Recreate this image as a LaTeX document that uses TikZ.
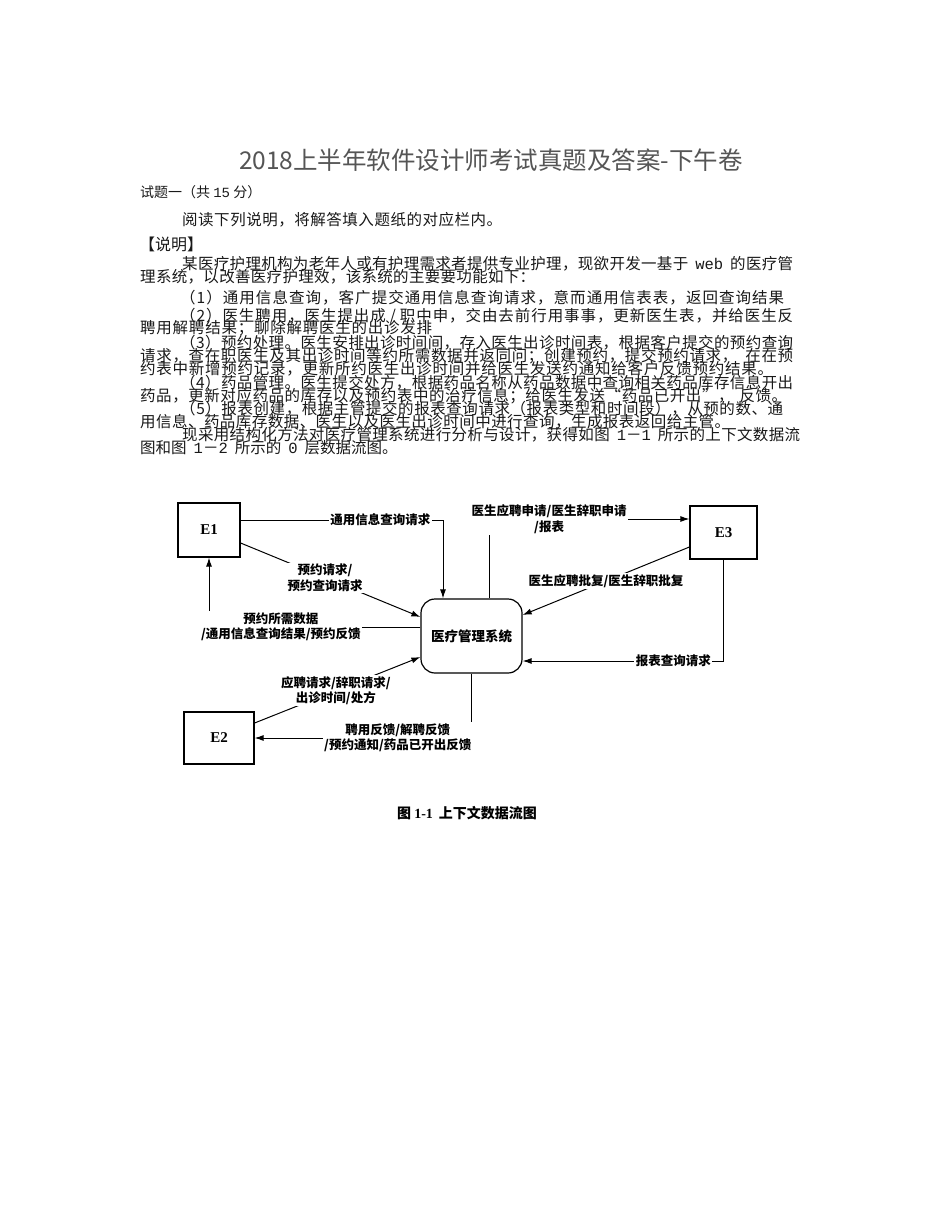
\documentclass[tikz,border=0pt]{standalone}
\usepackage{fontspec}
\setmainfont{Liberation Serif}
\newfontfamily\cjk{Noto Sans CJK SC}
\newfontfamily\monof{Liberation Mono}
\usetikzlibrary{arrows.meta,calc}
% character classes for CJK stretching (used only inside body lines)
\makeatletter
\count@="4E00
\loop
  \XeTeXcharclass\count@=1
  \advance\count@ by 1
\ifnum\count@<"A000 \repeat
\makeatother
\XeTeXcharclass`，=3 \XeTeXcharclass`。=3 \XeTeXcharclass`；=3 \XeTeXcharclass`：=3
\XeTeXcharclass`、=3 \XeTeXcharclass`）=3 \XeTeXcharclass`”=3
\XeTeXcharclass`（=2 \XeTeXcharclass`“=2 \XeTeXcharclass`－=1
\newcommand\cjkglue{\hskip 0pt plus 1fil\relax}
\XeTeXinterchartoks 1 1 = {\cjkglue}
\XeTeXinterchartoks 1 2 = {\cjkglue}
\XeTeXinterchartoks 1 3 = {\cjkglue}
\XeTeXinterchartoks 2 1 = {\cjkglue}
\XeTeXinterchartoks 3 1 = {\cjkglue}
\XeTeXinterchartoks 3 2 = {\cjkglue}
\XeTeXinterchartoks 3 3 = {\cjkglue}
\XeTeXinterchartoks 2 2 = {\cjkglue}
\XeTeXinterchartoks 0 1 = {\cjkglue}
\XeTeXinterchartoks 1 0 = {\cjkglue}
\XeTeXinterchartoks 0 3 = {\cjkglue}
\XeTeXinterchartoks 2 0 = {\cjkglue}
\definecolor{titlegray}{RGB}{85,85,85}
\definecolor{bodyink}{RGB}{25,25,25}
\newcommand\gap{\hspace{7pt}}
\newcommand\bodyln[5]{%
  \node[anchor=west,inner sep=0pt,text=bodyink,font=\cjk\fontsize{15.5}{15.5}\selectfont] (#1) at (#2,#4)
  {\XeTeXinterchartokenstate=1\relax\makebox[\dimexpr#3pt-#2pt\relax][s]{#5}};}
\begin{document}
\begin{tikzpicture}[x=1pt,y=-1pt,
  ent/.style={draw,line width=1.2pt,minimum width=62pt,minimum height=54pt,inner sep=0pt,
    font=\rmfamily\bfseries\fontsize{15}{15}\selectfont},
  proc/.style={draw,line width=1.2pt,rounded corners=14pt,minimum width=101pt,minimum height=74pt,
    inner sep=0pt,font=\cjk\bfseries\fontsize{13.5}{14}\selectfont},
  flow/.style={line width=1pt,-{Latex[length=9pt,width=6pt]}},
  lab/.style={fill=white,inner sep=1.5pt,align=center,font=\cjk\bfseries\fontsize{12.5}{15.5}\selectfont},
  hd/.style={anchor=west,inner sep=0pt,text=bodyink,font=\cjk\fontsize{14}{14}\selectfont}]
\path[fill=white,use as bounding box] (0,0) rectangle (950,1230);

% title and heading
\node[font=\cjk\fontsize{24.5}{25}\selectfont,text=titlegray] (title) at (491,160) {2018上半年软件设计师考试真题及答案-下午卷};
\node[hd] (h1) at (140,192) {试题一（共 {\monof 15} 分）};
\bodyln{h2}{182}{502}{220}{阅读下列说明，将解答填入题纸的对应栏内。}
\node[hd,font=\cjk\fontsize{16}{16}\selectfont] (h3) at (139,244) {【说明】};

% body
\bodyln{l1}{182}{793}{264}{某医疗护理机构为老年人或有护理需求者提供专业护理，现欲开发一基于\gap{\monof web}\gap 的医疗管}
\bodyln{l2}{140}{535}{277}{理系统，以改善医疗护理效，该系统的主要要功能如下：}
\bodyln{l3}{180}{784}{298}{（1）通用信息查询，客广提交通用信息查询请求，意而通用信表表，返回查询结果}
\bodyln{l4}{180}{793}{316}{（2）医生聘用，医生提出成\hspace{4pt}/\hspace{4pt}职中申，交由去前行用事事，更新医生表，并给医生反}
\bodyln{l5}{140}{432}{328}{聘用解聘结果；聊除解聘医生的出诊发排}
\bodyln{l6}{180}{793}{343}{（3）预约处理。医生安排出诊时间间，存入医生出诊时间表，根据客户提交的预约查询}
\bodyln{l7}{140}{793}{356}{请求，查在职医生及其出诊时间等约所需数据并返同问；创建预约，提交预约请求，\hspace{8pt}在在预}
\bodyln{l8}{140}{773}{369}{约表中新增预约记录，更新所约医生出诊时间并给医生发送约通知给客户反馈预约结果。}
\bodyln{l9}{180}{793}{383}{（4）药品管理。医生提交处方，根据药品名称从药品数据中查询相关药品库存信息开出}
\bodyln{l10}{140}{787}{396}{药品，更新对应药品的库存以及预约表中的治疗信息；给医生发送“药品已开出”，\hspace{6pt}反馈。}
\bodyln{l11}{180}{783}{409}{（5）报表创建，根据主管提交的报表查询请求（报表类型和时间段），从预的数、通}
\bodyln{l12}{140}{730}{422}{用信息、药品库存数据、医生以及医生出诊时间中进行查询，生成报表返回给主管。}
\bodyln{l13}{182}{800}{435}{现采用结构化方法对医疗管理系统进行分析与设计，获得如图\gap{\monof 1}－{\monof 1}\gap 所示的上下文数据流}
\bodyln{l14}{140}{392}{448}{图和图\gap{\monof 1}－{\monof 2}\gap 所示的\gap{\monof 0}\gap 层数据流图。}

% diagram nodes
\node[ent] (E1) at (209,530) {E1};
\node[ent,minimum width=67pt,minimum height=53pt] (E3) at (723.5,532.5) {E3};
\node[ent,minimum width=70pt,minimum height=52pt] (E2) at (219,738) {E2};
\node[proc] (P) at (471.5,636) {医疗管理系统};

% connectors
\draw[flow] ($(E1.east)+(0,-10)$) -| node[lab,pos=0.345] (t1) {通用信息查询请求} ($(P.north)+(-28.5,0)$);
\draw[flow] ($(E1.east)+(0,13)$) -- node[lab,pos=0.47] (t2) {预约请求/\\预约查询请求} ($(P.west)+(0,-19)$);
\draw[flow] ($(P.west)+(0,-9)$) -| node[lab,pos=0.33] (t3) {预约所需数据\\/通用信息查询结果/预约反馈} (E1.south);
\draw[flow] ($(E2.east)+(0,-15)$) -- node[lab,pos=0.49] (t4) {应聘请求/辞职请求/\\出诊时间/处方} ($(P.west)+(0,21)$);
\draw[flow] (P.south) |- node[lab,pos=0.67] (t5) {聘用反馈/解聘反馈\\/预约通知/药品已开出反馈} (E2.east);
\draw[flow] ($(P.north)+(17.5,0)$) |- node[lab,pos=0.65] (t6) {医生应聘申请/医生辞职申请\\/报表} ($(E3.west)+(0,-13.5)$);
\draw[flow] ($(E3.west)+(0,14.5)$) -- node[lab,pos=0.5] (t7) {医生应聘批复/医生辞职批复} ($(P.east)+(0,-21)$);
\draw[flow] (E3.south) |- node[lab,pos=0.625] (t8) {报表查询请求} ($(P.east)+(0,25)$);

% caption
\node[font=\cjk\bfseries\fontsize{14}{14}\selectfont] (cap) at (467,813) {图 {\rmfamily\bfseries 1-1}\hspace{6pt}上下文数据流图};
\end{tikzpicture}
\end{document}
